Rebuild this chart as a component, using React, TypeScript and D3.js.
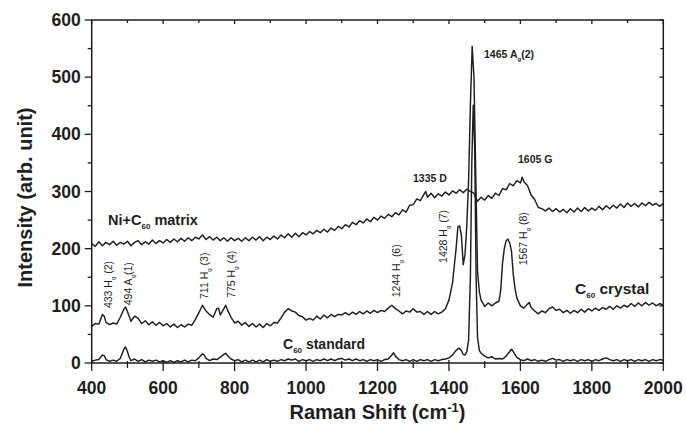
import React from "react";
import * as d3 from "d3";

const W = 686;
const H = 429;

// [Raman shift (cm-1), intensity]
const niMatrix: [number, number][] = [
  [400,209],[410,204],[420,212],[430,205],[440,211],[450,207],[460,213],[470,206],[480,211],[490,208],
  [500,213],[510,205],[520,211],[530,214],[540,207],[550,212],[560,208],[570,215],[580,209],[590,214],
  [600,210],[610,216],[620,211],[630,217],[640,212],[650,218],[660,213],[670,219],[680,214],[690,220],
  [700,217],[710,224],[720,216],[730,221],[740,215],[750,220],[760,214],[770,219],[780,213],[790,219],
  [800,214],[810,218],[820,213],[830,219],[840,214],[850,220],[860,215],[870,221],[880,214],[890,220],
  [900,216],[910,222],[920,217],[930,224],[940,219],[950,226],[960,220],[970,227],[980,221],[990,228],
  [1000,224],[1010,230],[1020,226],[1030,232],[1040,228],[1050,234],[1060,229],[1070,236],[1080,232],[1090,239],
  [1100,235],[1110,242],[1120,238],[1130,246],[1140,242],[1150,249],[1160,245],[1170,252],[1180,247],[1190,255],
  [1200,250],[1210,257],[1220,253],[1230,260],[1240,256],[1250,263],[1260,259],[1270,268],[1280,264],[1290,276],
  [1300,277],[1310,287],[1320,284],[1330,295],[1335,300],[1340,290],[1350,297],[1360,289],[1370,296],[1380,292],
  [1390,299],[1400,294],[1410,301],[1420,297],[1430,303],[1440,298],[1450,304],[1460,300],[1470,297],[1480,283],
  [1490,290],[1500,285],[1510,293],[1520,288],[1530,297],[1540,293],[1550,305],[1560,303],[1570,314],[1580,310],
  [1590,319],[1600,315],[1605,325],[1610,317],[1620,310],[1630,294],[1640,286],[1650,272],[1660,270],[1670,266],
  [1680,271],[1690,265],[1700,270],[1710,264],[1720,269],[1730,263],[1740,270],[1750,264],[1760,271],[1770,265],
  [1780,272],[1790,266],[1800,271],[1810,267],[1820,274],[1830,268],[1840,275],[1850,270],[1860,276],[1870,271],
  [1880,278],[1890,272],[1900,280],[1910,274],[1920,279],[1930,273],[1940,280],[1950,275],[1960,281],[1970,276],
  [1980,279],[1990,274],[2000,279],
];

const c60Crystal: [number, number][] = [
  [400,64],[410,69],[420,68],[430,85],[435,82],[440,71],[450,67],[460,70],[470,68],[480,80],
  [490,94],[495,98],[500,90],[510,73],[520,82],[530,78],[540,69],[550,74],[560,67],[570,72],
  [580,66],[590,71],[600,65],[610,69],[620,63],[630,68],[640,62],[650,67],[660,63],[670,68],
  [680,66],[690,76],[700,88],[710,101],[720,91],[730,85],[740,80],[750,95],[755,96],[760,84],
  [770,95],[775,101],[780,93],[790,80],[800,70],[810,73],[820,66],[830,71],[840,64],[850,69],
  [860,63],[870,68],[880,62],[890,69],[900,65],[910,71],[920,70],[930,79],[940,89],[950,95],
  [960,91],[970,89],[980,83],[990,81],[1000,75],[1010,78],[1020,75],[1030,82],[1040,77],[1050,84],
  [1060,79],[1070,85],[1080,81],[1090,85],[1100,84],[1110,88],[1120,84],[1130,89],[1140,85],[1150,90],
  [1160,86],[1170,91],[1180,87],[1190,92],[1200,88],[1210,92],[1220,90],[1230,96],[1240,101],[1250,95],
  [1260,91],[1270,86],[1280,91],[1290,89],[1300,95],[1310,89],[1320,90],[1330,85],[1340,90],[1350,85],
  [1360,90],[1370,86],[1380,89],[1390,95],[1400,110],[1410,140],[1420,200],[1425,238],[1430,240],[1435,222],
  [1440,172],[1445,190],[1450,240],[1455,320],[1460,450],[1465,554],[1470,500],[1475,330],[1480,160],[1485,125],
  [1490,110],[1500,99],[1510,105],[1520,100],[1530,105],[1540,108],[1545,128],[1550,175],[1555,200],[1560,214],
  [1565,217],[1570,210],[1575,196],[1580,155],[1585,130],[1590,114],[1600,100],[1610,96],[1620,103],[1625,106],
  [1630,97],[1640,91],[1650,86],[1660,91],[1670,88],[1680,95],[1690,98],[1700,92],[1710,94],[1720,88],
  [1730,92],[1740,87],[1750,92],[1760,88],[1770,94],[1780,89],[1790,95],[1800,91],[1810,96],[1820,92],
  [1830,97],[1840,94],[1850,99],[1860,94],[1870,100],[1880,96],[1890,101],[1900,98],[1910,104],[1920,99],
  [1930,105],[1940,100],[1950,106],[1960,101],[1970,105],[1980,100],[1990,104],[2000,101],
];

const c60Standard: [number, number][] = [
  [400,3],[410,5],[420,6],[430,14],[435,13],[440,6],[450,3],[460,5],[470,3],[480,8],
  [490,24],[495,28],[500,20],[505,10],[510,4],[520,7],[530,3],[540,6],[550,2],[560,5],
  [570,3],[580,5],[590,2],[600,4],[610,1],[620,4],[630,1],[640,4],[650,2],[660,5],
  [670,2],[680,5],[690,4],[700,9],[710,16],[715,14],[720,8],[730,4],[740,7],[750,6],
  [760,10],[770,15],[775,17],[780,13],[790,7],[800,4],[810,6],[820,2],[830,5],[840,2],
  [850,5],[860,2],[870,5],[880,2],[890,6],[900,3],[910,5],[920,3],[930,6],[940,4],
  [950,7],[960,5],[970,7],[980,3],[990,6],[1000,4],[1010,6],[1020,3],[1030,6],[1040,4],
  [1050,7],[1060,4],[1070,7],[1080,4],[1090,7],[1100,8],[1110,5],[1120,7],[1130,4],[1140,7],
  [1150,4],[1160,6],[1170,3],[1180,6],[1190,4],[1200,6],[1210,3],[1220,6],[1230,7],[1240,14],
  [1245,18],[1250,12],[1260,6],[1270,4],[1280,6],[1290,3],[1300,6],[1310,3],[1320,6],[1330,4],
  [1340,6],[1350,3],[1360,6],[1370,4],[1380,6],[1390,7],[1400,9],[1410,14],[1420,22],[1428,26],
  [1435,22],[1440,15],[1445,14],[1450,20],[1455,40],[1460,150],[1464,350],[1468,451],[1472,380],[1476,150],
  [1480,45],[1485,22],[1490,17],[1500,12],[1510,9],[1520,11],[1530,7],[1540,8],[1550,7],[1560,12],
  [1570,20],[1575,24],[1580,20],[1590,10],[1600,6],[1610,4],[1620,7],[1630,4],[1640,6],[1650,3],
  [1660,5],[1670,3],[1680,6],[1690,8],[1700,5],[1710,6],[1720,3],[1730,6],[1740,4],[1750,6],
  [1760,3],[1770,6],[1780,4],[1790,6],[1800,3],[1810,6],[1820,4],[1830,7],[1840,9],[1850,6],
  [1860,4],[1870,6],[1880,3],[1890,6],[1900,4],[1910,6],[1920,3],[1930,6],[1940,4],[1950,6],
  [1960,3],[1970,6],[1980,4],[1990,6],[2000,5],
];

const xMajorTicks = [400, 600, 800, 1000, 1200, 1400, 1600, 1800, 2000];
const xMinorTicks = [500, 700, 900, 1100, 1300, 1500, 1700, 1900];
const yMajorTicks = [0, 100, 200, 300, 400, 500, 600];
const yMinorTicks = [50, 150, 250, 350, 450, 550];

// vertical peak annotations: text, centre wavenumber of the text, intensity at the text's lower end
const peakLabels: { num: string; sym: string; sub: string; suf: string; x: number; y: number }[] = [
  { num: "433", sym: "H", sub: "g", suf: " (2)", x: 446, y: 96 },
  { num: "494", sym: "A", sub: "g", suf: "(1)", x: 504, y: 101 },
  { num: "711", sym: "H", sub: "g", suf: " (3)", x: 717, y: 112 },
  { num: "775", sym: "H", sub: "g", suf: " (4)", x: 790, y: 114 },
  { num: "1244", sym: "H", sub: "g", suf: " (6)", x: 1252, y: 115 },
  { num: "1428", sym: "H", sub: "g", suf: " (7)", x: 1386, y: 175 },
  { num: "1567", sym: "H", sub: "g", suf: " (8)", x: 1610, y: 171 },
];

const INK = "#1e1e1e";
const FONT = "'Liberation Sans', Arial, Helvetica, sans-serif";

export default function App() {
  const x = d3.scaleLinear().domain([400, 2000]).range([91.7, 663.3]);
  const y = d3.scaleLinear().domain([0, 600]).range([363, 20]);
  const line = d3
    .line<[number, number]>()
    .x((d) => x(d[0]))
    .y((d) => y(d[1]));

  const x0 = x(400), x1 = x(2000), y0 = y(0), y1 = y(600);

  return (
    <svg
      width={W}
      height={H}
      style={{ position: "absolute", left: 0, top: 0, background: "#fff" }}
      fontFamily={FONT}
    >
      <rect x={0} y={0} width={W} height={H} fill="#fff" />
      {/* series */}
      <g fill="none" stroke={INK} strokeWidth={1.45} strokeLinejoin="round">
        <path d={line(niMatrix) || ""} />
        <path d={line(c60Crystal) || ""} />
        <path d={line(c60Standard) || ""} />
      </g>

      {/* frame */}
      <rect x={x0} y={y1} width={x1 - x0} height={y0 - y1} fill="none" stroke={INK} strokeWidth={1.5} />

      {/* ticks */}
      <g stroke={INK} strokeWidth={1.3}>
        {xMajorTicks.map((t) => (
          <g key={"xM" + t}>
            <line x1={x(t)} x2={x(t)} y1={y0 - 3} y2={y0 + 8} />
            <line x1={x(t)} x2={x(t)} y1={y1} y2={y1 + 4} />
          </g>
        ))}
        {xMinorTicks.map((t) => (
          <g key={"xm" + t}>
            <line x1={x(t)} x2={x(t)} y1={y0 - 2} y2={y0 + 5} />
            <line x1={x(t)} x2={x(t)} y1={y1} y2={y1 + 3} />
          </g>
        ))}
        {yMajorTicks.map((t) => (
          <g key={"yM" + t}>
            <line x1={x0 - 7} x2={x0} y1={y(t)} y2={y(t)} />
            <line x1={x1 - 4} x2={x1} y1={y(t)} y2={y(t)} />
          </g>
        ))}
        {yMinorTicks.map((t) => (
          <g key={"ym" + t}>
            <line x1={x0 - 4} x2={x0} y1={y(t)} y2={y(t)} />
            <line x1={x1 - 3} x2={x1} y1={y(t)} y2={y(t)} />
          </g>
        ))}
      </g>

      {/* tick labels */}
      <g fill={INK} fontWeight="bold" fontSize={17.5}>
        {xMajorTicks.map((t) => (
          <text key={"xl" + t} x={x(t)} y={y0 + 31} textAnchor="middle">
            {t}
          </text>
        ))}
        {yMajorTicks.map((t) => (
          <text key={"yl" + t} x={x0 - 11} y={y(t) + 6} textAnchor="end">
            {t}
          </text>
        ))}
      </g>

      {/* axis titles */}
      <text x={(x0 + x1) / 2} y={419} textAnchor="middle" fontWeight="bold" fontSize={20} fill={INK}>
        Raman Shift (cm
        <tspan dy={-7} fontSize={13}>-1</tspan>
        <tspan dy={7}>)</tspan>
      </text>
      <text
        transform={`translate(32, ${(y0 + y1) / 2 + 6}) rotate(-90)`}
        textAnchor="middle"
        fontWeight="bold"
        fontSize={20}
        fill={INK}
      >
        Intensity (arb. unit)
      </text>

      {/* series labels */}
      <text x={108} y={225} fontWeight="bold" fontSize={14.5} fill={INK}>
        Ni+C<tspan dy={4} fontSize={8}>60</tspan>
        <tspan dy={-4}> matrix</tspan>
      </text>
      <text x={575} y={294} fontWeight="bold" fontSize={15.5} fill={INK}>
        C<tspan dy={4} fontSize={8}>60</tspan>
        <tspan dy={-4}> crystal</tspan>
      </text>
      <text x={283} y={349} fontWeight="bold" fontSize={14} fill={INK}>
        C<tspan dy={4} fontSize={8}>60</tspan>
        <tspan dy={-4}> standard</tspan>
      </text>

      {/* peak labels (horizontal) */}
      <g fill={INK} fontWeight="bold" fontSize={10.5}>
        <text x={484} y={58}>
          1465 A<tspan dy={3} fontSize={6}>g</tspan>
          <tspan dy={-3}>(2)</tspan>
        </text>
        <text x={413} y={182}>1335 D</text>
        <text x={518} y={163}>1605 G</text>
      </g>

      {/* peak labels (vertical) */}
      <g fill={INK} fontSize={10.5}>
        {peakLabels.map((p) => (
          <text key={p.num} transform={`translate(${x(p.x) + 3.5}, ${y(p.y)}) rotate(-90)`}>
            {p.num} {p.sym}
            <tspan dy={3} fontSize={6}>{p.sub}</tspan>
            <tspan dy={-3}>{p.suf}</tspan>
          </text>
        ))}
      </g>
    </svg>
  );
}
